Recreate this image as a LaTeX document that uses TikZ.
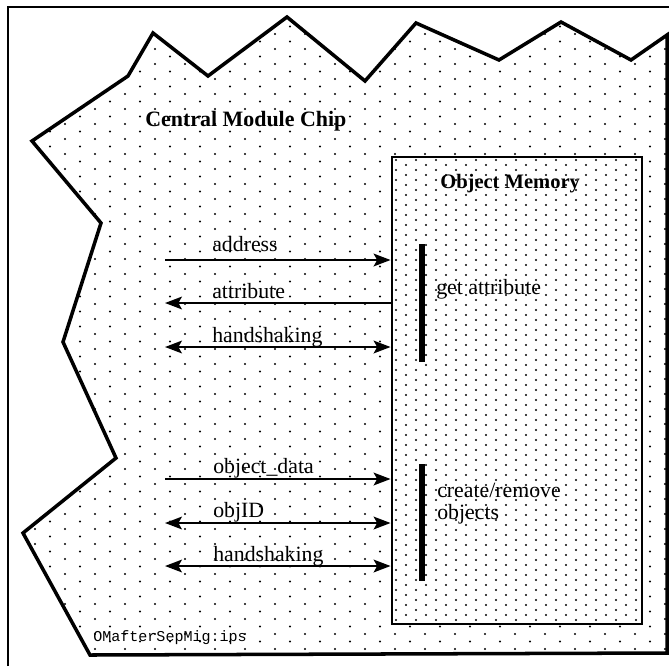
\documentclass[tikz,border=0pt]{standalone}
\usepackage{fontspec}
\setmainfont{Liberation Serif}
\setmonofont{Liberation Mono}
\usetikzlibrary{arrows.meta,positioning}

\tikzset{
  sig/.style={line width=1.7pt,>={Stealth[length=12pt,width=9pt,inset=2.5pt]}},
  lbl/.style={anchor=base west,inner sep=0pt,font=\fontsize{15.5}{18}\selectfont},
  ttl/.style={anchor=base west,inner sep=0pt,font=\bfseries\fontsize{15}{18}\selectfont},
  opbar/.style={line width=3.6pt},
  chipline/.style={line width=2.5pt,line join=miter},
  ombox/.style={draw,line width=2pt,fill=white,inner sep=0pt,
                minimum width=6.25cm,minimum height=11.675cm},
  dot/.style={fill=black},
}

\begin{document}
\begin{tikzpicture}[x=0.025cm,y=-0.025cm]
  \useasboundingbox[fill=white] (0,0) rectangle (669,666);
  % frame of the page
  \draw[line width=1.8pt] (8,666) -- (8,7) -- (669,7);

  % chip area, sparse dots
  \begin{scope}
    \clip (667,35) -- (631,60) -- (561,22) -- (499,60) -- (416,23) -- (365,81)
      -- (287,17) -- (208,76) -- (153,33) -- (128,76) -- (32,141) -- (101,223)
      -- (63,342) -- (116,458) -- (23,533) -- (90,655) -- (667,653) -- cycle;
    \foreach \c in {0,...,44}{
      \foreach \r in {0,...,44}{
        \fill[dot] ({\c*15+5},{\r*15+mod(\c,2)*7.5+4}) circle[radius=0.8pt];
      }
    }
  \end{scope}
  \draw[chipline] (667,35) -- (631,60) -- (561,22) -- (499,60) -- (416,23) -- (365,81)
      -- (287,17) -- (208,76) -- (153,33) -- (128,76) -- (32,141) -- (101,223)
      -- (63,342) -- (116,458) -- (23,533) -- (90,655) -- (667,653) -- cycle;

  % object memory, dense dots
  \node[ombox] (om) at (517,390.5) {};
  \begin{scope}
    \clip ([shift={(3,3)}]om.north west) rectangle ([shift={(-3,-3)}]om.south east);
    \foreach \c in {0,...,25}{
      \foreach \r in {0,...,47}{
        \fill[dot] ({392+\c*10+4},{157+\r*10+mod(\c,2)*5+3}) circle[radius=0.75pt];
      }
    }
  \end{scope}

  \node[ttl,font=\bfseries\fontsize{15.6}{18}\selectfont] (chip) at (145,126) {Central Module Chip};
  \node[ttl,font=\bfseries\fontsize{14.6}{18}\selectfont] (omtitle) at (440,188) {Object Memory};

  % get attribute interface
  \coordinate (addrL) at (165,260);
  \coordinate (attrL) at (165,303);
  \coordinate (hsAL) at (165,347);
  \draw[sig,->] (addrL) -- (addrL -| om.west);
  \draw[sig,<-] (attrL) -- (attrL -| om.west);
  \draw[sig,<->] (hsAL) -- (hsAL -| om.west);
  \node[lbl] (addr) at (212,251) {address};
  \node[lbl] (attr) at (212,298) {attribute};
  \node[lbl] (hsA) at (212,342) {handshaking};
  \draw[opbar] (422,244) -- (422,362);
  \node[lbl] (getattr) at (436,294) {get attribute};

  % create/remove interface
  \coordinate (dataL) at (165,479);
  \coordinate (idL) at (165,523);
  \coordinate (hsBL) at (165,566);
  \draw[sig,->] (dataL) -- (dataL -| om.west);
  \draw[sig,<->] (idL) -- (idL -| om.west);
  \draw[sig,<->] (hsBL) -- (hsBL -| om.west);
  \node[lbl] (data) at (213,473) {object\_data};
  \node[lbl] (objid) at (213,517) {objID};
  \node[lbl] (hsB) at (213,561) {handshaking};
  \draw[opbar] (422,464) -- (422,581);
  \node[lbl] (crA) at (437,497) {create/remove};
  \node[lbl] (crB) at (437,519) {objects};

  \node[anchor=base west,inner sep=0pt,font=\ttfamily\fontsize{10.7}{12}\selectfont] (fname) at (93,641) {OMafterSepMig.ips};
\end{tikzpicture}
\end{document}
